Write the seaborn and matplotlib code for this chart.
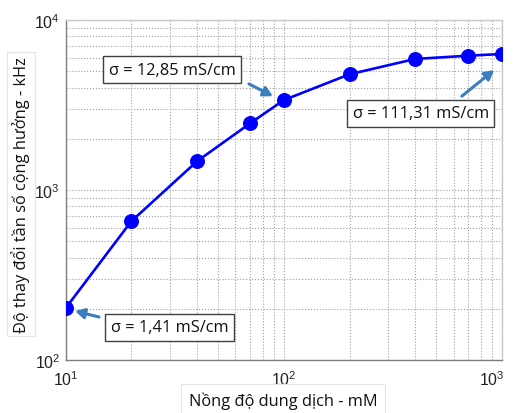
import matplotlib
matplotlib.use("Agg")
import matplotlib.pyplot as plt
import seaborn as sns
import pandas as pd
from matplotlib.ticker import LogLocator, LogFormatterMathtext, NullFormatter, FuncFormatter

# Data
concentration_mM = [10, 20, 40, 70, 100, 200, 400, 700, 1000]
freq_shift_kHz = [202, 655, 1476, 2466, 3380, 4795, 5900, 6166, 6310]
annotations = ["σ = 12,85 mS/cm", "σ = 111,31 mS/cm", "σ = 1,41 mS/cm"]
x_label = "Nồng độ dung dịch - mM"
y_label = "Độ thay đổi tần số cộng hưởng - kHz"

sns.set_style("white")
plt.rcParams['font.family'] = ['Liberation Sans', 'DejaVu Sans']
plt.rcParams['mathtext.default'] = 'regular'

df = pd.DataFrame({"x": concentration_mM, "y": freq_shift_kHz})

fig = plt.figure(figsize=(5.13, 4.14), dpi=100)
ax = fig.add_axes([65.7/513, 53/414, 436.3/513, 340/414])

sns.lineplot(data=df, x="x", y="y", ax=ax, color="#0000ff", linewidth=1.9,
             marker="o", markersize=10, markeredgecolor="#0000ff", zorder=5)

ax.set_xscale("log")
ax.set_yscale("log")
ax.set_xlim(10, 1000)
ax.set_ylim(100, 10000)

ax.xaxis.set_major_locator(LogLocator(base=10, numticks=10))
ax.yaxis.set_major_locator(LogLocator(base=10, numticks=10))
ax.xaxis.set_minor_locator(LogLocator(base=10, subs=range(2, 10), numticks=20))
ax.yaxis.set_minor_locator(LogLocator(base=10, subs=range(2, 10), numticks=20))
ax.xaxis.set_minor_formatter(NullFormatter())
ax.yaxis.set_minor_formatter(NullFormatter())

base_fmt = LogFormatterMathtext()
x_max = ax.get_xlim()[1]


def x_fmt(v, pos):
    # the right-most label is drawn separately, nudged left to stay inside the figure
    if abs(v - x_max) < 1e-6 * x_max:
        return ""
    return base_fmt(v, pos)


ax.xaxis.set_major_formatter(FuncFormatter(x_fmt))
ax.yaxis.set_major_formatter(LogFormatterMathtext())

ax.grid(True, which="both", linestyle=":", color="#a0a0a0", linewidth=0.8)
ax.set_axisbelow(True)
tick_size = 11.5
ax.tick_params(axis="both", which="both", length=0, labelsize=tick_size, colors="#222222")
ax.tick_params(axis="x", pad=7)
ax.tick_params(axis="y", pad=4)

ax.annotate(base_fmt(x_max), xy=(x_max, 0), xycoords=("data", "axes fraction"),
            xytext=(-7, -7), textcoords="offset points", ha="center", va="top",
            fontsize=tick_size, color="#222222")

for s in ["left", "bottom"]:
    ax.spines[s].set_color("#7f7f7f")
    ax.spines[s].set_linewidth(1.0)
for s in ["top", "right"]:
    ax.spines[s].set_color("#c8c8c8")
    ax.spines[s].set_linewidth(1.0)

ax.set_xlabel("")
ax.set_ylabel("")

lab_font = ['Open Sans', 'DejaVu Sans']
fig.text(21/513, 1 - 195/414, y_label, rotation=90, ha="center", va="center",
         fontsize=11.8, family=lab_font, color="#111111",
         bbox=dict(boxstyle="square,pad=0.25", fc="white", ec="#e4e4e4", lw=0.8))
fig.text(283/513, 1 - 401/414, x_label, ha="center", va="center",
         fontsize=11.8, family=lab_font, color="#111111",
         bbox=dict(boxstyle="square,pad=0.45", fc="white", ec="#e4e4e4", lw=0.8))

arrow_col = "#3a7ebf"
box_kw = dict(boxstyle="square,pad=0.32", fc="white", ec="#404040", lw=1.0)
box_pos = [(0.2436, 0.854), (0.814, 0.725), (0.238, 0.0956)]
arrows = [((0.420, 0.812), (0.475, 0.776)),
          ((0.908, 0.776), (0.982, 0.853)),
          ((0.0763, 0.1265), (0.0213, 0.144))]
for txt, (bx, by) in zip(annotations, box_pos):
    ax.text(bx, by, txt, transform=ax.transAxes, ha="center", va="center",
            fontsize=11.8, family=lab_font, color="#111111", bbox=box_kw, zorder=10)
for (tail, head) in arrows:
    ax.annotate("", xy=head, xytext=tail, xycoords="axes fraction",
                textcoords="axes fraction",
                arrowprops=dict(arrowstyle="-|>,head_length=0.55,head_width=0.3",
                                color=arrow_col, lw=2.2, shrinkA=0, shrinkB=0),
                zorder=10)

fig.savefig("out.png", dpi=100)
